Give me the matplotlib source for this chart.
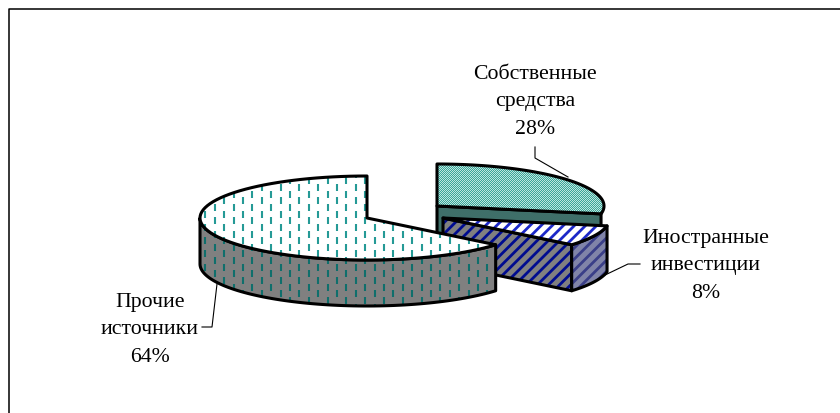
import matplotlib
matplotlib.use('Agg')
import matplotlib.pyplot as plt
import numpy as np
from matplotlib.colors import ListedColormap
from matplotlib.patches import Polygon

plt.rcParams['font.family'] = ['Liberation Serif', 'DejaVu Serif']

labels = ['Собственные\nсредства\n28%', 'Иностранные\nинвестиции\n8%', 'Прочие\nисточники\n64%']
shares = [28, 8, 64]
label_pos = [(535, 102), (706, 266), (150, 330)]
centers = [(437, 207), (443, 219), (367, 219)]

RX, RY, DEPTH = 167, 42, 46

fig = plt.figure(figsize=(8.4, 4.14), dpi=100)
ax = fig.add_axes([0, 0, 1, 1])
ax.axis('off')

# only the top and left of the frame are in the picture
ax.plot([840, 8.5, 8.5], [9.5, 9.5, 414], color='black', lw=1.1, zorder=0.4)


def arc(center, a0, a1):
    t = np.radians(np.linspace(a0, a1, 80))
    return np.column_stack([center[0] + RX * np.cos(t), center[1] - RY * np.sin(t)])


def outline(pts, z):
    ax.add_patch(Polygon(pts, fill=False, ec='black', lw=2.2, joinstyle='round', zorder=z))


def shape(pts, face, z, hatch=None, hatch_color='white', hatch_lw=1.0):
    plt.rcParams['hatch.linewidth'] = hatch_lw
    patch = Polygon(pts, fc=face, ec=hatch_color, hatch=hatch, lw=0, zorder=z)
    ax.add_patch(patch)
    outline(pts, z + 0.2)
    return patch


def dashes(patch, z, color):
    # dashed fill of the big slice, clipped to the face
    xs = np.arange(196, 500, 9.4)
    for i, x in enumerate(xs):
        ys = np.arange(165 + (i % 2) * 6.6, 320, 13.3)
        col = ax.vlines(np.full_like(ys, x, dtype=float), ys, ys + 7, color=color, lw=1.5, zorder=z)
        col.set_clip_path(patch)


def checker(patch, z, colors):
    # fine dither of the 28% face, one cell per pixel
    x0, y0 = patch.get_xy().min(axis=0).astype(int)
    x1, y1 = patch.get_xy().max(axis=0).astype(int) + 1
    yy, xx = np.mgrid[y0:y1, x0:x1]
    im = ax.imshow((xx + yy) % 2, extent=(x0, x1, y1, y0), cmap=ListedColormap(colors),
                   interpolation='nearest', aspect='auto', zorder=z)
    im.set_clip_path(patch)


# angles run clockwise from 12 o'clock
ends = 90 - np.cumsum(shares) * 3.6
starts = np.r_[90, ends[:-1]]
down = np.array([0, DEPTH])

# 28% slice
c = np.array(centers[0])
rim = arc(c, ends[0], starts[0])
edge = rim[0]
shape(np.vstack([c, edge, edge + [0, 60], c + [0, 46]]), '#3f6f69', 1)
patch = shape(np.vstack([c, rim]), '#62b5aa', 2)
checker(patch, 2.1, ['#3aa598', '#bce6df'])

# 8% slice
c = np.array(centers[1])
rim = arc(c, ends[1], starts[1])
low = rim[0]
shape(np.vstack([c, low, low + down, c + down]), '#808080', 3, '///', '#000c90', 2.0)
shape(np.vstack([rim, rim[::-1] + down]), '#8084a8', 4, '///', '#3a3f88', 2.0)
shape(np.vstack([c, rim]), '#ffffff', 5, '///', '#1c28c8', 2.0)

# 64% slice
c = np.array(centers[2])
rim = arc(c, 90, ends[1] + 360)
front = arc(c, 180, ends[1] + 360)
patch = shape(np.vstack([front, front[::-1] + down]), '#808080', 6)
dashes(patch, 6.1, '#0f6f6c')
patch = shape(np.vstack([c, rim]), '#ffffff', 7)
dashes(patch, 7.1, '#259a96')

# leader lines
ax.plot([535, 535, 568], [148, 159, 178], color='black', lw=0.8, zorder=0.5)
ax.plot([603, 628, 640], [277, 265, 265], color='black', lw=0.8, zorder=8)
ax.plot([217, 212, 202], [285, 328, 328], color='black', lw=0.8, zorder=8)

for text, pos in zip(labels, label_pos):
    ax.text(pos[0], pos[1], text, ha='center', va='center', fontsize=15.7, linespacing=1.6, zorder=9)

ax.set_xlim(0, 840)
ax.set_ylim(414, 0)

fig.savefig('out.png', dpi=100)
